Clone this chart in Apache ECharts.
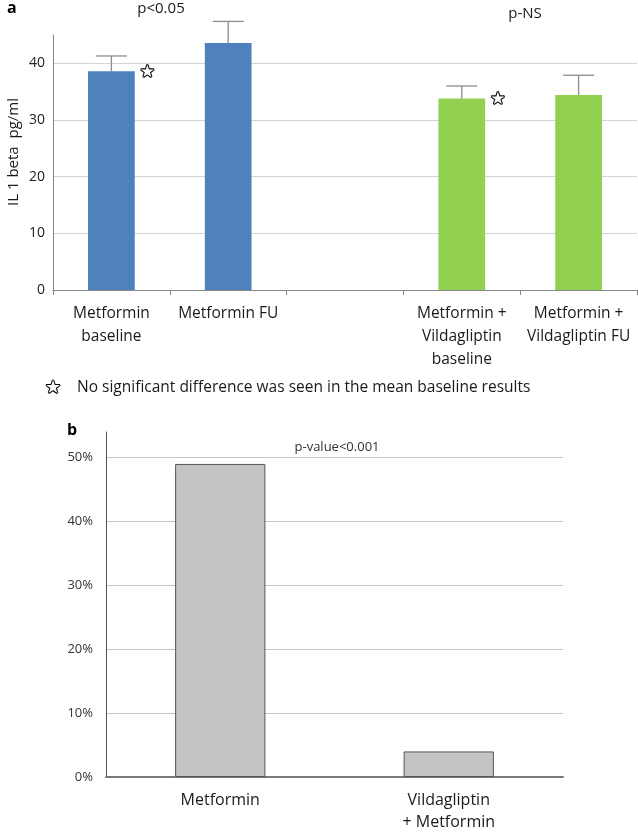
<!DOCTYPE html>
<html>
<head>
<meta charset="utf-8">
<script src="https://cdn.jsdelivr.net/npm/echarts@6/dist/echarts.min.js"></script>
<style>
html,body{margin:0;padding:0;background:#fff;}
#chart{width:638px;height:833px;}
</style>
</head>
<body>
<div id="chart"></div>
<script>
// Panel a
var catsA = ['Metformin\nbaseline', 'Metformin FU', '', 'Metformin +\nVildagliptin\nbaseline', 'Metformin +\nVildagliptin FU'];
var meanA = [38.6, 43.6, null, 33.8, 34.4];
var errUpperA = [41.3, 47.4, null, 36.0, 37.9];
var starredA = [true, false, false, true, false];
var colorsA = ['#4F81BD', '#4F81BD', '#4F81BD', '#92D050', '#92D050'];
// Panel b
var catsB = ['Metformin', 'Vildagliptin\n+ Metformin'];
var valsB = [49, 4];

var FONT = '"Open Sans", "DejaVu Sans", sans-serif';
var STAR_STYLE = {
  fontSize: 17, color: '#fff', textBorderColor: '#000', textBorderWidth: 2.2,
  fontFamily: '"DejaVu Sans", sans-serif'
};
var chart = echarts.init(document.getElementById('chart'));

var barDataA = meanA.map(function (v, i) {
  var item = { value: v, itemStyle: { color: colorsA[i] } };
  if (starredA[i]) {
    item.label = Object.assign({
      show: true, formatter: '\u2605', position: ['100%', 0],
      align: 'left', verticalAlign: 'middle', offset: [5, 1]
    }, STAR_STYLE);
  }
  return item;
});

var errDataA = meanA.map(function (v, i) { return [i, v, errUpperA[i]]; })
  .filter(function (d) { return d[1] != null; });

var option = {
  animation: false,
  backgroundColor: '#fff',
  grid: [
    { left: 53, right: 1, top: 35, height: 255 },
    { left: 106, right: 75, top: 432, height: 349.7 }
  ],
  xAxis: [
    {
      type: 'category', gridIndex: 0, data: catsA,
      axisLine: { lineStyle: { color: '#868686', width: 1 } },
      axisTick: { show: true, length: 5, lineStyle: { color: '#868686' } },
      axisLabel: { color: '#1a1a1a', fontSize: 15.5, lineHeight: 23, margin: 12, fontFamily: FONT, interval: 0 }
    },
    {
      type: 'category', gridIndex: 1, data: catsB,
      axisLine: { lineStyle: { color: '#7a7a7a', width: 2 } },
      axisTick: { show: false },
      axisLabel: { color: '#1a1a1a', fontSize: 16, lineHeight: 22, margin: 12, fontFamily: FONT, interval: 0 }
    }
  ],
  yAxis: [
    {
      type: 'value', gridIndex: 0, min: 0, max: 45, interval: 10,
      axisLine: { show: true, lineStyle: { color: '#868686' } },
      axisTick: { show: false },
      axisLabel: { showMaxLabel: false, color: '#222', fontSize: 14, margin: 8, fontFamily: FONT },
      splitLine: { show: true, lineStyle: { color: ['transparent', '#D4D4D4', '#D4D4D4', '#D4D4D4', '#D4D4D4', 'transparent'] } }
    },
    {
      type: 'value', gridIndex: 1, min: 0, max: 54, interval: 10,
      axisLine: { show: true, lineStyle: { color: '#555' } },
      axisTick: { show: false },
      axisLabel: { showMaxLabel: false, formatter: '{value}%', color: '#333', fontSize: 13, margin: 13, fontFamily: FONT },
      splitLine: { show: true, lineStyle: { color: ['transparent', '#C4C4C4', '#C4C4C4', '#C4C4C4', '#C4C4C4', '#C4C4C4', 'transparent'] } }
    }
  ],
  series: [
    {
      type: 'bar', xAxisIndex: 0, yAxisIndex: 0, data: barDataA, barWidth: '40%', z: 2
    },
    {
      type: 'custom', xAxisIndex: 0, yAxisIndex: 0, data: errDataA, z: 3,
      encode: { x: 0, y: [1, 2] },
      renderItem: function (params, api) {
        var x = api.value(0);
        var base = api.coord([x, api.value(1)]);
        var top = api.coord([x, api.value(2)]);
        var half = 15.5;
        var st = { stroke: '#8C8C8C', lineWidth: 1.3 };
        return {
          type: 'group',
          children: [
            { type: 'line', shape: { x1: base[0], y1: base[1], x2: top[0], y2: top[1] }, style: st },
            { type: 'line', shape: { x1: top[0] - half, y1: top[1], x2: top[0] + half, y2: top[1] }, style: st }
          ]
        };
      }
    },
    {
      type: 'bar', xAxisIndex: 1, yAxisIndex: 1, data: valsB, barWidth: '39.5%',
      itemStyle: { color: '#C3C3C3', borderColor: '#555', borderWidth: 1 }
    }
  ],
  graphic: [
    { type: 'text', left: 7, top: 0, style: { text: 'a', fontSize: 16, fontWeight: 'bold', fill: '#000', fontFamily: FONT } },
    { type: 'text', x: 161, y: 9, style: { text: 'p<0.05', fontSize: 15, fill: '#1a1a1a', fontFamily: FONT, align: 'center', verticalAlign: 'middle' } },
    { type: 'text', x: 525, y: 14, style: { text: 'p-NS', fontSize: 15, fill: '#1a1a1a', fontFamily: FONT, align: 'center', verticalAlign: 'middle' } },
    { type: 'text', x: 14, y: 152, rotation: Math.PI / 2, style: { text: 'IL 1 beta  pg/ml', fontSize: 15, fill: '#1a1a1a', fontFamily: FONT, align: 'center', verticalAlign: 'middle' } },
    { type: 'text', x: 53, y: 388, style: { text: '\u2605', fontSize: 18, fill: '#fff', stroke: '#000', lineWidth: 2.2, fontFamily: '"DejaVu Sans", sans-serif', align: 'center', verticalAlign: 'middle' } },
    { type: 'text', x: 77, y: 388, style: { text: 'No significant difference was seen in the mean baseline results', fontSize: 15.5, fill: '#1a1a1a', fontFamily: FONT, align: 'left', verticalAlign: 'middle' } },
    { type: 'text', x: 72, y: 430, style: { text: 'b', fontSize: 16, fontWeight: 'bold', fill: '#000', fontFamily: FONT, align: 'center', verticalAlign: 'middle' } },
    { type: 'text', x: 337, y: 447, style: { text: 'p-value<0.001', fontSize: 13, fill: '#333', fontFamily: FONT, align: 'center', verticalAlign: 'middle' } }
  ]
};
chart.setOption(option);
</script>
</body>
</html>
